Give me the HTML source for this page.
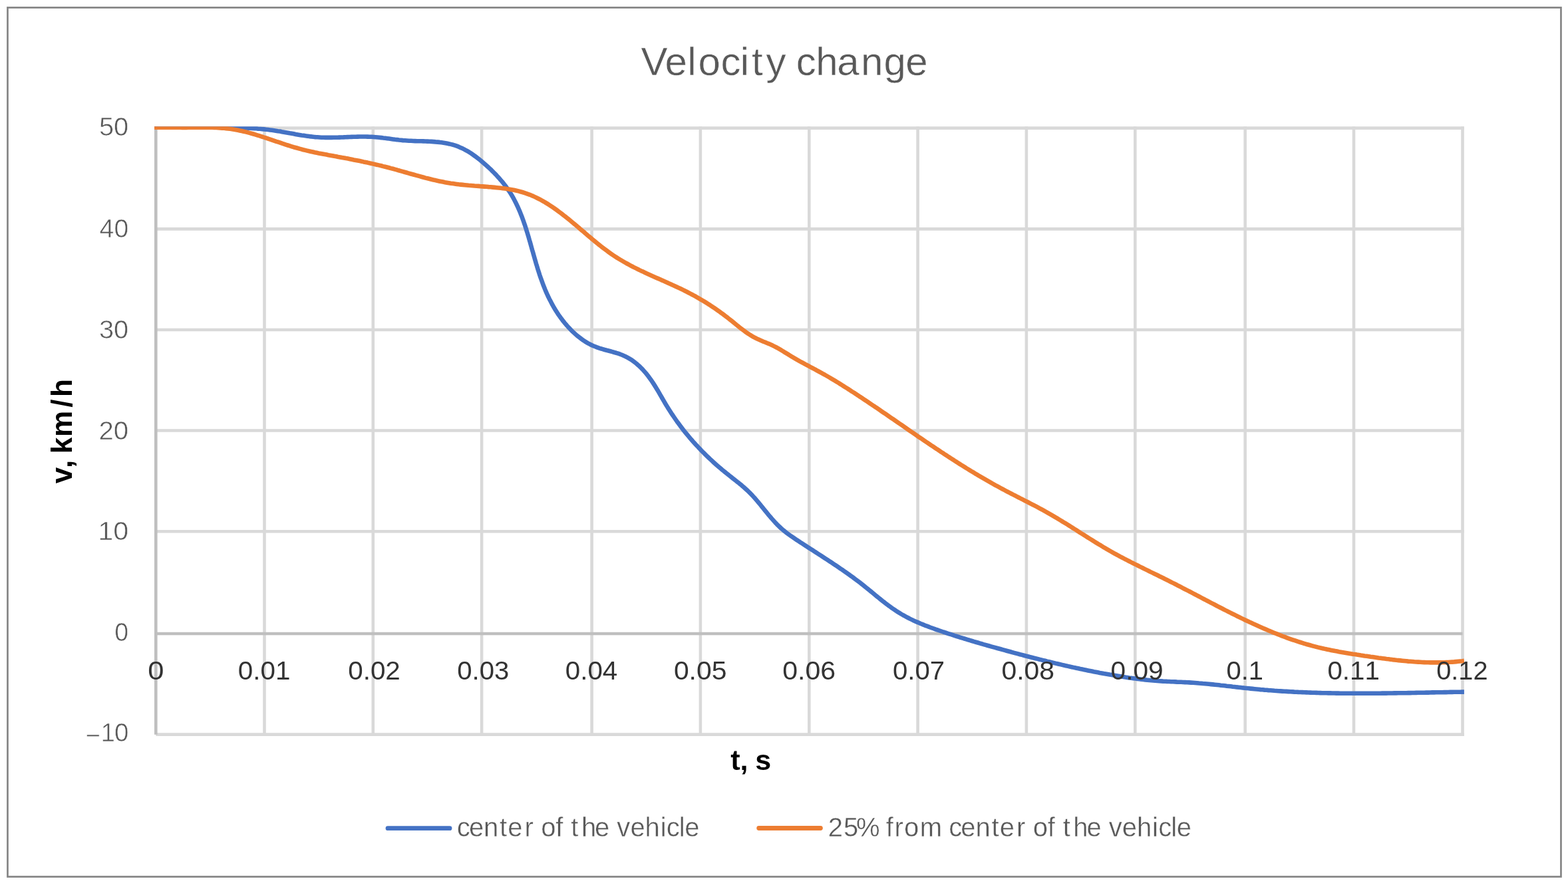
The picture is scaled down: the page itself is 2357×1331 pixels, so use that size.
<!DOCTYPE html>
<html><head><meta charset="utf-8"><title>Velocity change</title>
<style>html,body{margin:0;padding:0;background:#fff;width:2357px;height:1331px;overflow:hidden}</style>
</head><body>
<svg width="2357" height="1331" viewBox="0 0 2357 1331" font-family="'Liberation Sans', Arial, sans-serif" style="display:block;font-kerning:none">
<rect x="0" y="0" width="2357" height="1331" fill="#fff"/>
<rect x="11.45" y="11.4" width="2335" height="1307.15" fill="none" stroke="#858585" stroke-width="2.7"/>
<text x="963.39 999.47 1033.32 1049.62 1083.52 1112.75 1130.03 1151.59 1161.59 1196.72 1226.18 1258.34 1294.07 1328.59 1361.27" y="112.60" font-size="60" fill="#595959" stroke="#fff" stroke-width="0.4">Velocity change</text>
<path d="M397.5,190.35V1106.90 M560.8,190.35V1106.90 M724.1,190.35V1106.90 M889.6,190.35V1106.90 M1052.9,190.35V1106.90 M1216.3,190.35V1106.90 M1379.6,190.35V1106.90 M1542.9,190.35V1106.90 M1706.3,190.35V1106.90 M1871.7,190.35V1106.90 M2035.0,190.35V1106.90 M2198.5,190.35V1106.90" stroke="#d9d9d9" stroke-width="4.6" fill="none"/>
<path d="M234.30,192.65H2200.80 M234.30,344.35H2200.80 M234.30,496.0H2200.80 M234.30,647.5H2200.80 M234.30,799.3H2200.80 M234.30,1104.6H2200.80" stroke="#d9d9d9" stroke-width="4.6" fill="none"/>
<path d="M234.3,190.35V1104.7 M232.00,953.05H2198.50" stroke="#bfbfbf" stroke-width="4.6" fill="none"/>
<clipPath id="pc"><rect x="232.00" y="190.35" width="1969.30" height="916.55"/></clipPath>
<g clip-path="url(#pc)" fill="none" stroke-width="6.6" stroke-linejoin="round">
<path d="M232.0,191.8L235.0,191.8 238.0,191.8 241.0,191.8 244.0,191.8 247.0,191.8 250.0,191.8 253.0,191.8 256.0,191.8 259.0,191.8 262.0,191.8 265.0,191.8 268.0,191.8 271.0,191.8 274.0,191.8 277.0,191.8 280.0,191.8 283.0,191.8 286.0,191.8 289.0,191.8 292.0,191.8 295.1,191.8 298.1,191.8 301.1,191.8 304.1,191.8 307.1,191.8 310.1,191.8 313.1,191.8 316.1,191.8 319.1,191.7 322.1,191.7 325.1,191.7 328.1,191.7 331.1,191.7 334.1,191.7 337.1,191.8 340.1,191.8 343.1,191.8 346.1,191.8 349.1,191.9 352.1,191.9 355.1,192.0 358.1,192.1 361.1,192.1 364.1,192.2 367.1,192.3 370.1,192.5 373.1,192.6 376.1,192.8 379.1,192.9 382.1,193.1 385.1,193.3 388.0,193.6 391.0,193.8 394.0,194.1 397.0,194.4 400.0,194.7 403.0,195.0 405.9,195.4 408.9,195.8 411.9,196.2 414.8,196.7 417.8,197.2 420.8,197.6 423.7,198.2 426.7,198.7 429.6,199.2 432.6,199.7 435.5,200.3 438.5,200.8 441.5,201.3 444.4,201.9 447.4,202.4 450.3,202.9 453.3,203.4 456.3,203.8 459.2,204.3 462.2,204.7 465.2,205.1 468.2,205.4 471.2,205.8 474.1,206.1 477.1,206.3 480.1,206.5 483.1,206.7 486.2,206.8 489.2,206.9 492.2,206.9 495.2,206.9 498.2,206.9 501.3,206.8 504.3,206.8 507.3,206.7 510.3,206.6 513.4,206.5 516.4,206.4 519.4,206.2 522.5,206.1 525.5,206.0 528.5,205.9 531.5,205.8 534.5,205.7 537.6,205.6 540.6,205.5 543.6,205.5 546.6,205.5 549.6,205.5 552.5,205.6 555.5,205.7 558.5,205.8 561.5,206.0 564.4,206.2 567.4,206.5 570.3,206.8 573.2,207.1 576.2,207.5 579.1,207.8 582.0,208.2 585.0,208.6 587.9,209.0 590.9,209.4 593.8,209.8 596.8,210.1 599.8,210.5 602.7,210.8 605.7,211.1 608.8,211.3 611.8,211.5 614.8,211.7 617.9,211.8 620.9,212.0 624.0,212.1 627.1,212.2 630.2,212.2 633.3,212.3 636.3,212.4 639.4,212.5 642.5,212.6 645.5,212.8 648.6,212.9 651.6,213.1 654.7,213.4 657.7,213.6 660.7,213.9 663.7,214.3 666.6,214.7 669.6,215.2 672.5,215.8 675.4,216.4 678.3,217.1 681.1,217.8 683.9,218.7 686.7,219.7 689.4,220.7 692.1,221.9 694.7,223.1 697.4,224.4 700.0,225.8 702.5,227.2 705.1,228.7 707.6,230.3 710.1,232.0 712.5,233.7 715.0,235.5 717.4,237.3 719.7,239.1 722.1,241.0 724.4,243.0 726.7,245.0 729.0,247.0 731.3,249.0 733.5,251.0 735.8,253.1 738.0,255.2 740.1,257.3 742.3,259.5 744.4,261.6 746.5,263.8 748.5,266.1 750.6,268.3 752.5,270.6 754.5,272.9 756.4,275.2 758.2,277.6 760.1,279.9 761.8,282.3 763.5,284.8 765.2,287.3 766.8,289.8 768.4,292.3 769.9,294.8 771.4,297.4 772.8,300.0 774.2,302.7 775.5,305.3 776.8,308.0 778.1,310.7 779.3,313.4 780.5,316.1 781.7,318.9 782.8,321.7 783.9,324.5 785.0,327.3 786.0,330.1 787.0,332.9 788.0,335.8 789.0,338.6 789.9,341.5 790.8,344.3 791.7,347.2 792.6,350.1 793.5,353.0 794.4,355.9 795.2,358.8 796.0,361.7 796.9,364.6 797.7,367.5 798.5,370.4 799.3,373.3 800.1,376.2 801.0,379.1 801.8,382.0 802.6,384.8 803.4,387.7 804.2,390.6 805.1,393.5 805.9,396.4 806.8,399.2 807.6,402.1 808.5,404.9 809.4,407.8 810.3,410.6 811.2,413.5 812.2,416.3 813.2,419.1 814.2,421.9 815.2,424.7 816.2,427.5 817.3,430.3 818.4,433.0 819.5,435.8 820.7,438.6 821.9,441.3 823.1,444.0 824.4,446.7 825.7,449.4 827.1,452.1 828.5,454.8 829.9,457.5 831.4,460.1 832.9,462.8 834.5,465.4 836.1,468.0 837.7,470.5 839.4,473.1 841.2,475.6 842.9,478.0 844.8,480.5 846.6,482.9 848.5,485.3 850.5,487.6 852.4,489.9 854.4,492.1 856.5,494.3 858.6,496.5 860.7,498.6 862.9,500.6 865.1,502.6 867.3,504.6 869.6,506.4 871.9,508.2 874.3,510.0 876.7,511.7 879.1,513.3 881.6,514.8 884.1,516.3 886.7,517.7 889.3,519.0 892.0,520.2 894.7,521.3 897.4,522.4 900.2,523.4 903.1,524.3 906.0,525.1 908.9,526.0 911.8,526.8 914.7,527.5 917.6,528.3 920.6,529.1 923.5,530.0 926.4,530.8 929.3,531.7 932.1,532.7 934.9,533.8 937.7,535.0 940.4,536.2 943.1,537.6 945.7,539.1 948.2,540.6 950.7,542.3 953.2,544.1 955.6,546.0 957.9,547.9 960.2,549.9 962.4,552.0 964.5,554.1 966.6,556.3 968.6,558.6 970.6,560.9 972.5,563.2 974.3,565.6 976.1,568.0 977.9,570.4 979.6,572.9 981.3,575.4 982.9,577.9 984.5,580.4 986.1,583.0 987.6,585.5 989.2,588.1 990.7,590.7 992.2,593.3 993.7,595.9 995.2,598.5 996.7,601.1 998.2,603.7 999.7,606.3 1001.3,608.9 1002.8,611.4 1004.4,614.0 1006.0,616.5 1007.6,619.0 1009.2,621.6 1010.9,624.0 1012.6,626.5 1014.3,629.0 1016.0,631.5 1017.7,633.9 1019.5,636.3 1021.3,638.7 1023.0,641.1 1024.9,643.5 1026.7,645.9 1028.5,648.2 1030.4,650.6 1032.3,652.9 1034.2,655.2 1036.1,657.5 1038.1,659.8 1040.0,662.0 1042.0,664.3 1044.0,666.5 1046.0,668.7 1048.1,670.9 1050.1,673.1 1052.2,675.3 1054.2,677.5 1056.3,679.6 1058.5,681.7 1060.6,683.9 1062.7,686.0 1064.9,688.0 1067.1,690.1 1069.3,692.1 1071.5,694.2 1073.7,696.2 1075.9,698.2 1078.2,700.2 1080.5,702.2 1082.7,704.1 1085.0,706.1 1087.4,708.0 1089.7,709.9 1092.0,711.8 1094.4,713.7 1096.7,715.5 1099.1,717.4 1101.5,719.3 1103.8,721.1 1106.2,723.0 1108.5,724.9 1110.9,726.7 1113.2,728.6 1115.5,730.6 1117.8,732.5 1120.0,734.5 1122.2,736.5 1124.4,738.5 1126.5,740.6 1128.6,742.7 1130.7,744.9 1132.7,747.1 1134.7,749.3 1136.7,751.6 1138.6,753.8 1140.5,756.1 1142.5,758.5 1144.3,760.8 1146.2,763.1 1148.1,765.5 1150.0,767.8 1151.9,770.1 1153.8,772.5 1155.7,774.8 1157.7,777.1 1159.6,779.4 1161.6,781.6 1163.6,783.9 1165.6,786.1 1167.7,788.3 1169.8,790.4 1172.0,792.5 1174.1,794.5 1176.4,796.5 1178.7,798.4 1181.0,800.3 1183.4,802.1 1185.8,803.9 1188.2,805.6 1190.7,807.3 1193.2,809.0 1195.7,810.7 1198.2,812.4 1200.7,814.0 1203.2,815.7 1205.7,817.3 1208.3,819.0 1210.8,820.6 1213.3,822.2 1215.8,823.9 1218.3,825.5 1220.9,827.1 1223.4,828.8 1225.9,830.4 1228.4,832.0 1231.0,833.7 1233.5,835.3 1236.0,836.9 1238.5,838.6 1241.0,840.2 1243.5,841.8 1246.0,843.5 1248.5,845.1 1251.0,846.8 1253.5,848.5 1256.0,850.1 1258.5,851.8 1261.0,853.5 1263.4,855.2 1265.9,856.8 1268.4,858.6 1270.8,860.3 1273.3,862.0 1275.7,863.7 1278.1,865.5 1280.6,867.2 1283.0,869.0 1285.4,870.8 1287.8,872.6 1290.2,874.4 1292.6,876.2 1295.0,878.1 1297.3,879.9 1299.7,881.8 1302.0,883.7 1304.4,885.6 1306.7,887.5 1309.0,889.4 1311.3,891.3 1313.7,893.3 1316.0,895.2 1318.3,897.1 1320.7,899.0 1323.0,900.9 1325.4,902.8 1327.7,904.7 1330.1,906.5 1332.5,908.4 1334.9,910.2 1337.3,911.9 1339.7,913.7 1342.1,915.4 1344.6,917.1 1347.1,918.8 1349.6,920.4 1352.1,921.9 1354.7,923.5 1357.3,925.0 1359.9,926.4 1362.5,927.8 1365.2,929.2 1367.8,930.6 1370.5,931.9 1373.2,933.2 1375.9,934.4 1378.7,935.6 1381.4,936.8 1384.2,938.0 1387.0,939.1 1389.8,940.3 1392.6,941.3 1395.4,942.4 1398.2,943.5 1401.0,944.5 1403.9,945.5 1406.7,946.6 1409.6,947.5 1412.4,948.5 1415.3,949.5 1418.1,950.5 1421.0,951.4 1423.8,952.4 1426.7,953.3 1429.6,954.2 1432.4,955.1 1435.3,956.1 1438.2,957.0 1441.0,957.9 1443.9,958.8 1446.8,959.7 1449.6,960.5 1452.5,961.4 1455.4,962.3 1458.3,963.1 1461.1,964.0 1464.0,964.9 1466.9,965.7 1469.8,966.5 1472.6,967.4 1475.5,968.2 1478.4,969.1 1481.3,969.9 1484.2,970.7 1487.1,971.5 1489.9,972.3 1492.8,973.1 1495.7,973.9 1498.6,974.7 1501.5,975.5 1504.4,976.3 1507.3,977.1 1510.2,977.9 1513.1,978.7 1516.0,979.5 1518.9,980.3 1521.7,981.1 1524.6,981.9 1527.5,982.6 1530.4,983.4 1533.3,984.2 1536.2,984.9 1539.1,985.7 1542.0,986.5 1545.0,987.2 1547.9,988.0 1550.8,988.7 1553.7,989.5 1556.6,990.2 1559.5,990.9 1562.4,991.7 1565.3,992.4 1568.2,993.1 1571.1,993.8 1574.0,994.6 1577.0,995.3 1579.9,996.0 1582.8,996.7 1585.7,997.4 1588.6,998.1 1591.6,998.7 1594.5,999.4 1597.4,1000.1 1600.3,1000.8 1603.3,1001.4 1606.2,1002.1 1609.1,1002.8 1612.0,1003.4 1615.0,1004.1 1617.9,1004.7 1620.8,1005.3 1623.8,1006.0 1626.7,1006.6 1629.7,1007.2 1632.6,1007.8 1635.5,1008.4 1638.5,1009.0 1641.4,1009.6 1644.4,1010.2 1647.3,1010.7 1650.3,1011.3 1653.2,1011.9 1656.2,1012.4 1659.1,1013.0 1662.1,1013.5 1665.0,1014.0 1668.0,1014.6 1670.9,1015.1 1673.9,1015.6 1676.9,1016.1 1679.8,1016.6 1682.8,1017.1 1685.8,1017.6 1688.7,1018.0 1691.7,1018.5 1694.7,1018.9 1697.6,1019.4 1700.6,1019.8 1703.6,1020.2 1706.6,1020.6 1709.5,1021.0 1712.5,1021.3 1715.5,1021.7 1718.5,1022.0 1721.5,1022.4 1724.5,1022.7 1727.4,1023.0 1730.4,1023.3 1733.4,1023.5 1736.4,1023.8 1739.4,1024.0 1742.4,1024.2 1745.4,1024.4 1748.4,1024.6 1751.4,1024.7 1754.4,1024.9 1757.3,1025.0 1760.3,1025.2 1763.3,1025.3 1766.3,1025.4 1769.3,1025.6 1772.3,1025.7 1775.3,1025.8 1778.3,1026.0 1781.3,1026.1 1784.3,1026.3 1787.3,1026.4 1790.3,1026.6 1793.3,1026.8 1796.3,1027.0 1799.3,1027.2 1802.3,1027.5 1805.3,1027.7 1808.2,1028.0 1811.2,1028.2 1814.2,1028.5 1817.2,1028.8 1820.2,1029.1 1823.2,1029.4 1826.2,1029.7 1829.2,1030.0 1832.1,1030.3 1835.1,1030.7 1838.1,1031.0 1841.1,1031.3 1844.1,1031.7 1847.1,1032.0 1850.1,1032.3 1853.0,1032.7 1856.0,1033.0 1859.0,1033.4 1862.0,1033.7 1865.0,1034.0 1868.0,1034.4 1871.0,1034.7 1873.9,1035.0 1876.9,1035.3 1879.9,1035.6 1882.9,1035.9 1885.9,1036.2 1888.9,1036.5 1891.9,1036.8 1894.9,1037.1 1897.8,1037.3 1900.8,1037.6 1903.8,1037.8 1906.8,1038.1 1909.8,1038.3 1912.8,1038.5 1915.8,1038.8 1918.8,1039.0 1921.8,1039.2 1924.8,1039.4 1927.8,1039.6 1930.8,1039.8 1933.8,1039.9 1936.8,1040.1 1939.8,1040.3 1942.7,1040.4 1945.7,1040.6 1948.7,1040.7 1951.7,1040.9 1954.7,1041.0 1957.7,1041.1 1960.7,1041.3 1963.7,1041.4 1966.7,1041.5 1969.7,1041.6 1972.7,1041.7 1975.7,1041.8 1978.7,1041.9 1981.7,1042.0 1984.7,1042.1 1987.7,1042.2 1990.7,1042.2 1993.7,1042.3 1996.7,1042.4 1999.7,1042.4 2002.7,1042.5 2005.7,1042.5 2008.7,1042.6 2011.7,1042.6 2014.7,1042.7 2017.7,1042.7 2020.7,1042.7 2023.7,1042.7 2026.7,1042.8 2029.8,1042.8 2032.8,1042.8 2035.8,1042.8 2038.8,1042.8 2041.8,1042.8 2044.8,1042.8 2047.8,1042.8 2050.8,1042.8 2053.8,1042.8 2056.8,1042.8 2059.8,1042.8 2062.8,1042.8 2065.8,1042.7 2068.8,1042.7 2071.8,1042.7 2074.8,1042.7 2077.8,1042.6 2080.8,1042.6 2083.8,1042.6 2086.8,1042.5 2089.8,1042.5 2092.8,1042.5 2095.8,1042.4 2098.8,1042.4 2101.8,1042.3 2104.8,1042.3 2107.9,1042.3 2110.9,1042.2 2113.9,1042.2 2116.9,1042.1 2119.9,1042.1 2122.9,1042.0 2125.9,1042.0 2128.9,1041.9 2131.9,1041.8 2134.9,1041.8 2137.9,1041.7 2140.9,1041.7 2143.9,1041.6 2146.9,1041.6 2149.9,1041.5 2152.9,1041.4 2155.9,1041.4 2158.9,1041.3 2161.9,1041.3 2164.9,1041.2 2167.9,1041.2 2170.9,1041.1 2173.9,1041.1 2176.9,1041.0 2179.9,1040.9 2182.9,1040.9 2185.9,1040.8 2188.9,1040.8 2191.9,1040.7 2194.9,1040.7 2197.9,1040.6 2200.9,1040.6" stroke="#4472c4"/>
<path d="M232.0,191.8L235.0,191.8 238.0,191.8 241.0,191.8 244.0,191.8 247.0,191.8 250.0,191.8 253.0,191.8 256.0,191.8 259.0,191.8 262.0,191.8 265.0,191.8 268.0,191.8 271.0,191.8 274.0,191.9 277.0,191.9 280.0,191.9 283.0,191.8 286.0,191.8 289.0,191.8 292.0,191.8 295.0,191.8 298.1,191.7 301.1,191.7 304.1,191.7 307.1,191.7 310.1,191.7 313.1,191.7 316.1,191.8 319.1,191.8 322.1,191.9 325.1,192.0 328.0,192.2 331.0,192.4 334.0,192.6 337.0,192.8 339.9,193.1 342.9,193.4 345.9,193.8 348.8,194.2 351.8,194.7 354.7,195.2 357.6,195.8 360.5,196.4 363.5,197.0 366.4,197.7 369.3,198.4 372.2,199.1 375.1,199.9 378.0,200.7 380.9,201.5 383.8,202.4 386.7,203.3 389.6,204.2 392.4,205.1 395.3,206.0 398.2,207.0 401.1,207.9 403.9,208.9 406.8,209.8 409.7,210.8 412.6,211.8 415.4,212.8 418.3,213.7 421.2,214.7 424.0,215.7 426.9,216.6 429.8,217.6 432.7,218.5 435.6,219.4 438.4,220.3 441.3,221.2 444.2,222.0 447.1,222.8 450.0,223.6 452.9,224.4 455.8,225.2 458.7,225.9 461.6,226.6 464.5,227.3 467.4,227.9 470.3,228.5 473.2,229.2 476.1,229.8 479.1,230.4 482.0,230.9 484.9,231.5 487.8,232.1 490.8,232.6 493.7,233.2 496.6,233.7 499.6,234.2 502.5,234.8 505.4,235.3 508.4,235.9 511.3,236.4 514.2,237.0 517.2,237.5 520.1,238.1 523.1,238.6 526.0,239.2 528.9,239.8 531.9,240.4 534.8,240.9 537.8,241.5 540.7,242.1 543.6,242.7 546.6,243.4 549.5,244.0 552.5,244.6 555.4,245.3 558.3,245.9 561.3,246.6 564.2,247.3 567.1,247.9 570.1,248.6 573.0,249.3 575.9,250.1 578.8,250.8 581.7,251.5 584.7,252.3 587.6,253.1 590.5,253.8 593.4,254.6 596.3,255.4 599.2,256.3 602.1,257.1 605.0,257.9 607.9,258.7 610.8,259.5 613.7,260.4 616.6,261.2 619.5,262.0 622.4,262.8 625.3,263.6 628.2,264.4 631.0,265.2 633.9,266.0 636.8,266.8 639.7,267.6 642.7,268.3 645.6,269.0 648.5,269.8 651.4,270.5 654.3,271.1 657.2,271.8 660.1,272.4 663.0,273.0 666.0,273.6 668.9,274.2 671.8,274.7 674.8,275.2 677.7,275.7 680.7,276.1 683.6,276.5 686.6,276.9 689.6,277.3 692.5,277.6 695.5,277.9 698.5,278.2 701.5,278.5 704.4,278.8 707.4,279.0 710.4,279.2 713.4,279.5 716.4,279.7 719.4,279.9 722.4,280.2 725.4,280.4 728.5,280.6 731.5,280.8 734.5,281.1 737.5,281.3 740.5,281.6 743.6,281.9 746.6,282.2 749.6,282.5 752.6,282.8 755.6,283.2 758.6,283.6 761.6,284.0 764.6,284.5 767.6,285.0 770.5,285.5 773.5,286.1 776.4,286.7 779.3,287.4 782.2,288.2 785.1,289.0 787.9,289.9 790.7,290.8 793.5,291.8 796.3,292.8 799.1,294.0 801.8,295.1 804.5,296.4 807.2,297.7 809.8,299.0 812.5,300.4 815.1,301.8 817.7,303.3 820.3,304.9 822.8,306.4 825.3,308.0 827.9,309.7 830.3,311.3 832.8,313.0 835.3,314.8 837.7,316.5 840.1,318.3 842.6,320.1 844.9,321.9 847.3,323.8 849.7,325.6 852.0,327.5 854.4,329.4 856.7,331.3 859.0,333.2 861.4,335.2 863.7,337.1 866.0,339.0 868.3,341.0 870.6,342.9 872.9,344.9 875.2,346.9 877.5,348.8 879.7,350.8 882.0,352.7 884.3,354.7 886.6,356.6 888.9,358.6 891.2,360.5 893.5,362.4 895.9,364.3 898.2,366.2 900.5,368.1 902.9,370.0 905.2,371.8 907.6,373.6 910.0,375.4 912.4,377.2 914.8,379.0 917.2,380.7 919.7,382.4 922.1,384.1 924.6,385.8 927.1,387.4 929.7,389.0 932.2,390.5 934.8,392.0 937.3,393.5 939.9,395.0 942.6,396.5 945.2,397.9 947.8,399.3 950.5,400.7 953.1,402.1 955.8,403.4 958.5,404.7 961.2,406.1 963.9,407.4 966.6,408.6 969.4,409.9 972.1,411.2 974.8,412.4 977.6,413.7 980.3,414.9 983.1,416.2 985.8,417.4 988.6,418.6 991.3,419.8 994.1,421.1 996.9,422.3 999.6,423.5 1002.4,424.7 1005.1,426.0 1007.9,427.2 1010.6,428.5 1013.4,429.7 1016.1,431.0 1018.8,432.3 1021.6,433.5 1024.3,434.8 1027.0,436.1 1029.7,437.5 1032.3,438.8 1035.0,440.2 1037.7,441.6 1040.3,443.0 1042.9,444.4 1045.6,445.8 1048.2,447.3 1050.8,448.8 1053.3,450.3 1055.9,451.8 1058.5,453.4 1061.0,454.9 1063.5,456.5 1066.0,458.1 1068.5,459.8 1071.0,461.4 1073.5,463.1 1076.0,464.8 1078.4,466.5 1080.9,468.2 1083.3,470.0 1085.7,471.7 1088.1,473.5 1090.5,475.3 1092.9,477.2 1095.2,479.0 1097.6,480.9 1099.9,482.7 1102.3,484.6 1104.6,486.5 1107.0,488.5 1109.3,490.3 1111.6,492.2 1114.0,494.1 1116.4,495.9 1118.8,497.7 1121.2,499.5 1123.7,501.2 1126.1,502.8 1128.7,504.4 1131.2,506.0 1133.8,507.4 1136.5,508.8 1139.2,510.1 1141.9,511.3 1144.7,512.5 1147.5,513.7 1150.3,514.8 1153.1,516.0 1155.9,517.1 1158.6,518.3 1161.4,519.6 1164.0,520.9 1166.7,522.3 1169.3,523.7 1171.9,525.2 1174.5,526.7 1177.1,528.3 1179.6,529.8 1182.2,531.4 1184.7,532.9 1187.2,534.5 1189.8,536.1 1192.4,537.6 1194.9,539.1 1197.5,540.6 1200.1,542.1 1202.7,543.6 1205.4,545.0 1208.0,546.4 1210.6,547.9 1213.3,549.3 1215.9,550.7 1218.5,552.1 1221.2,553.5 1223.8,554.9 1226.5,556.3 1229.1,557.8 1231.8,559.2 1234.4,560.6 1237.0,562.1 1239.6,563.5 1242.2,565.0 1244.8,566.5 1247.4,568.0 1250.0,569.6 1252.6,571.1 1255.2,572.6 1257.7,574.2 1260.3,575.8 1262.8,577.4 1265.4,579.0 1267.9,580.6 1270.4,582.2 1273.0,583.8 1275.5,585.4 1278.0,587.0 1280.5,588.7 1283.1,590.3 1285.6,591.9 1288.1,593.6 1290.6,595.2 1293.1,596.9 1295.6,598.5 1298.1,600.2 1300.6,601.9 1303.1,603.5 1305.6,605.2 1308.1,606.9 1310.5,608.6 1313.0,610.3 1315.5,611.9 1318.0,613.6 1320.5,615.3 1323.0,617.0 1325.4,618.7 1327.9,620.4 1330.4,622.1 1332.9,623.8 1335.3,625.5 1337.8,627.2 1340.3,628.9 1342.8,630.6 1345.2,632.3 1347.7,634.0 1350.2,635.7 1352.6,637.4 1355.1,639.1 1357.6,640.8 1360.1,642.5 1362.5,644.2 1365.0,646.0 1367.5,647.7 1369.9,649.4 1372.4,651.1 1374.9,652.8 1377.4,654.5 1379.8,656.2 1382.3,657.9 1384.8,659.5 1387.3,661.2 1389.8,662.9 1392.2,664.6 1394.7,666.3 1397.2,668.0 1399.7,669.7 1402.2,671.3 1404.7,673.0 1407.2,674.7 1409.7,676.3 1412.2,678.0 1414.7,679.7 1417.2,681.3 1419.7,683.0 1422.2,684.6 1424.7,686.3 1427.2,687.9 1429.7,689.5 1432.2,691.1 1434.7,692.8 1437.3,694.4 1439.8,696.0 1442.3,697.6 1444.9,699.2 1447.4,700.8 1450.0,702.4 1452.5,704.0 1455.0,705.5 1457.6,707.1 1460.2,708.7 1462.7,710.2 1465.3,711.8 1467.9,713.3 1470.4,714.9 1473.0,716.4 1475.6,717.9 1478.2,719.4 1480.8,720.9 1483.4,722.4 1486.0,723.9 1488.6,725.4 1491.2,726.9 1493.8,728.3 1496.4,729.8 1499.0,731.2 1501.7,732.7 1504.3,734.1 1506.9,735.5 1509.6,736.9 1512.2,738.3 1514.9,739.7 1517.6,741.1 1520.2,742.5 1522.9,743.9 1525.6,745.2 1528.2,746.6 1530.9,748.0 1533.6,749.4 1536.3,750.7 1538.9,752.1 1541.6,753.5 1544.3,754.8 1547.0,756.2 1549.6,757.6 1552.3,759.0 1555.0,760.3 1557.6,761.7 1560.3,763.2 1562.9,764.6 1565.6,766.0 1568.2,767.4 1570.8,768.9 1573.4,770.3 1576.0,771.8 1578.7,773.3 1581.3,774.8 1583.8,776.3 1586.4,777.9 1589.0,779.4 1591.6,781.0 1594.1,782.5 1596.7,784.1 1599.3,785.7 1601.8,787.2 1604.4,788.8 1606.9,790.4 1609.5,792.0 1612.0,793.6 1614.5,795.2 1617.1,796.8 1619.6,798.4 1622.1,800.1 1624.7,801.7 1627.2,803.3 1629.8,804.9 1632.3,806.5 1634.8,808.1 1637.4,809.7 1639.9,811.3 1642.5,812.9 1645.0,814.5 1647.6,816.1 1650.1,817.6 1652.7,819.2 1655.3,820.7 1657.8,822.3 1660.4,823.8 1663.0,825.4 1665.6,826.9 1668.2,828.4 1670.8,829.8 1673.4,831.3 1676.0,832.8 1678.7,834.2 1681.3,835.6 1683.9,837.1 1686.6,838.5 1689.3,839.9 1691.9,841.3 1694.6,842.6 1697.2,844.0 1699.9,845.4 1702.6,846.7 1705.3,848.1 1708.0,849.4 1710.7,850.8 1713.3,852.1 1716.0,853.4 1718.7,854.8 1721.4,856.1 1724.1,857.4 1726.8,858.7 1729.5,860.1 1732.2,861.4 1734.9,862.7 1737.6,864.0 1740.3,865.3 1743.0,866.7 1745.7,868.0 1748.4,869.3 1751.1,870.7 1753.8,872.0 1756.5,873.4 1759.1,874.7 1761.8,876.1 1764.5,877.4 1767.2,878.8 1769.8,880.2 1772.5,881.5 1775.2,882.9 1777.8,884.3 1780.5,885.7 1783.2,887.1 1785.8,888.4 1788.5,889.8 1791.1,891.2 1793.8,892.6 1796.5,894.0 1799.1,895.4 1801.8,896.8 1804.4,898.2 1807.1,899.6 1809.7,901.0 1812.4,902.4 1815.1,903.8 1817.7,905.2 1820.4,906.6 1823.0,907.9 1825.7,909.3 1828.4,910.7 1831.0,912.1 1833.7,913.5 1836.3,914.8 1839.0,916.2 1841.7,917.6 1844.4,918.9 1847.0,920.3 1849.7,921.6 1852.4,923.0 1855.1,924.3 1857.8,925.6 1860.4,927.0 1863.1,928.3 1865.8,929.6 1868.5,930.9 1871.2,932.2 1873.9,933.5 1876.7,934.8 1879.4,936.1 1882.1,937.3 1884.8,938.6 1887.5,939.8 1890.3,941.1 1893.0,942.3 1895.8,943.5 1898.5,944.7 1901.3,945.9 1904.0,947.1 1906.8,948.3 1909.6,949.4 1912.3,950.6 1915.1,951.7 1917.9,952.8 1920.7,953.9 1923.5,955.0 1926.3,956.1 1929.1,957.2 1931.9,958.2 1934.8,959.3 1937.6,960.3 1940.4,961.3 1943.3,962.3 1946.1,963.2 1949.0,964.2 1951.8,965.1 1954.7,966.0 1957.5,966.9 1960.4,967.8 1963.3,968.7 1966.2,969.5 1969.1,970.3 1971.9,971.1 1974.8,971.9 1977.7,972.6 1980.6,973.4 1983.6,974.1 1986.5,974.8 1989.4,975.4 1992.3,976.1 1995.2,976.7 1998.2,977.3 2001.1,977.9 2004.1,978.5 2007.0,979.1 2009.9,979.6 2012.9,980.2 2015.8,980.7 2018.8,981.2 2021.8,981.7 2024.7,982.2 2027.7,982.7 2030.6,983.2 2033.6,983.7 2036.6,984.1 2039.6,984.6 2042.5,985.0 2045.5,985.5 2048.5,985.9 2051.4,986.4 2054.4,986.8 2057.4,987.2 2060.4,987.7 2063.3,988.1 2066.3,988.5 2069.3,988.9 2072.3,989.4 2075.2,989.8 2078.2,990.2 2081.2,990.6 2084.2,991.0 2087.2,991.3 2090.1,991.7 2093.1,992.1 2096.1,992.4 2099.1,992.8 2102.1,993.1 2105.1,993.4 2108.0,993.7 2111.0,994.0 2114.0,994.3 2117.0,994.6 2120.0,994.8 2123.0,995.0 2126.0,995.3 2129.0,995.5 2131.9,995.6 2134.9,995.8 2137.9,996.0 2140.9,996.1 2143.9,996.2 2146.9,996.3 2149.9,996.4 2152.9,996.4 2155.9,996.4 2158.9,996.4 2161.9,996.4 2164.9,996.4 2167.9,996.3 2170.9,996.2 2173.9,996.1 2176.9,996.0 2179.9,995.8 2182.9,995.6 2185.9,995.4 2188.9,995.1 2191.9,994.8 2194.9,994.5 2197.9,994.2 2200.9,993.8" stroke="#ed7d31"/>
</g>
<text x="148.90" y="203.55" font-size="38.5" fill="#595959" textLength="44.35" lengthAdjust="spacingAndGlyphs" stroke="#fff" stroke-width="0.6">50</text>
<text x="149.60" y="357.35" font-size="38.5" fill="#595959" textLength="43.63" lengthAdjust="spacingAndGlyphs" stroke="#fff" stroke-width="0.6">40</text>
<text x="148.98" y="509.25" font-size="38.5" fill="#595959" textLength="44.27" lengthAdjust="spacingAndGlyphs" stroke="#fff" stroke-width="0.6">30</text>
<text x="148.47" y="660.85" font-size="38.5" fill="#595959" textLength="44.80" lengthAdjust="spacingAndGlyphs" stroke="#fff" stroke-width="0.6">20</text>
<text x="147.35" y="812.25" font-size="38.5" fill="#595959" textLength="45.96" lengthAdjust="spacingAndGlyphs" stroke="#fff" stroke-width="0.6">10</text>
<text x="172.34" y="964.25" font-size="38.5" fill="#595959" textLength="20.83" lengthAdjust="spacingAndGlyphs" stroke="#fff" stroke-width="0.6">0</text>
<text x="128.50 151.62 172.04" y="1115.40" dy="3.4 -3.4 0" font-size="38.5" fill="#595959" stroke="#fff" stroke-width="0.6">−10</text>
<text x="222.20" y="1022.20" font-size="38.5" fill="#333333" textLength="24.20" lengthAdjust="spacingAndGlyphs">0</text>
<text x="357.72" y="1022.20" font-size="38.5" fill="#333333" textLength="78.65" lengthAdjust="spacingAndGlyphs">0.01</text>
<text x="523.22" y="1022.20" font-size="38.5" fill="#333333" textLength="78.61" lengthAdjust="spacingAndGlyphs">0.02</text>
<text x="687.23" y="1022.20" font-size="38.5" fill="#333333" textLength="78.03" lengthAdjust="spacingAndGlyphs">0.03</text>
<text x="849.83" y="1022.20" font-size="38.5" fill="#333333" textLength="78.46" lengthAdjust="spacingAndGlyphs">0.04</text>
<text x="1012.90" y="1022.20" font-size="38.5" fill="#333333" textLength="79.51" lengthAdjust="spacingAndGlyphs">0.05</text>
<text x="1176.30" y="1022.20" font-size="38.5" fill="#333333" textLength="79.80" lengthAdjust="spacingAndGlyphs">0.06</text>
<text x="1341.93" y="1022.20" font-size="38.5" fill="#333333" textLength="78.08" lengthAdjust="spacingAndGlyphs">0.07</text>
<text x="1505.40" y="1022.20" font-size="38.5" fill="#333333" textLength="79.57" lengthAdjust="spacingAndGlyphs">0.08</text>
<text x="1669.61" y="1022.20" font-size="38.5" fill="#333333" textLength="79.11" lengthAdjust="spacingAndGlyphs">0.09</text>
<text x="1843.64" y="1022.20" font-size="38.5" fill="#333333" textLength="55.40" lengthAdjust="spacingAndGlyphs">0.1</text>
<text x="1995.43" y="1022.20" font-size="38.5" fill="#333333" textLength="78.44" lengthAdjust="spacingAndGlyphs">0.11</text>
<text x="2159.15" y="1022.20" font-size="38.5" fill="#333333" textLength="77.35" lengthAdjust="spacingAndGlyphs">0.12</text>
<text x="1098.24 1112.61 1122.61 1135.37" y="1157.70" font-size="43" font-weight="bold" fill="#000000">t, s</text>
<text x="-1.02 22.27 32.27 44.01 69.25 113.49 129.29" y="0.00" font-size="44" font-weight="bold" fill="#000" transform="translate(108.2,726.2) rotate(-90)">v, km/h</text>
<path d="M583,1245.7H676" stroke="#4472c4" stroke-width="6.8" stroke-linecap="round"/>
<path d="M1140.7,1245.5H1233.4" stroke="#ed7d31" stroke-width="6.8" stroke-linecap="round"/>
<text x="686.78 704.92 727.05 750.99 763.32 788.54 798.54 813.18 835.33 845.33 858.19 873.89 894.02 904.02 927.30 947.42 969.59 992.67 1001.68 1020.85 1029.32" y="1258.20" font-size="40" fill="#595959" stroke="#fff" stroke-width="0.4">center of the vehicle</text>
<text x="1244.78 1268.12 1287.12 1297.12 1331.83 1344.54 1359.08 1382.73 1392.73 1426.23 1444.37 1466.50 1490.44 1502.77 1527.99 1537.99 1552.63 1574.78 1584.78 1597.64 1613.34 1633.47 1643.47 1666.75 1686.87 1709.04 1732.12 1741.13 1760.30 1768.77" y="1258.20" font-size="40" fill="#595959" stroke="#fff" stroke-width="0.4">25% from center of the vehicle</text>
</svg>
</body></html>
